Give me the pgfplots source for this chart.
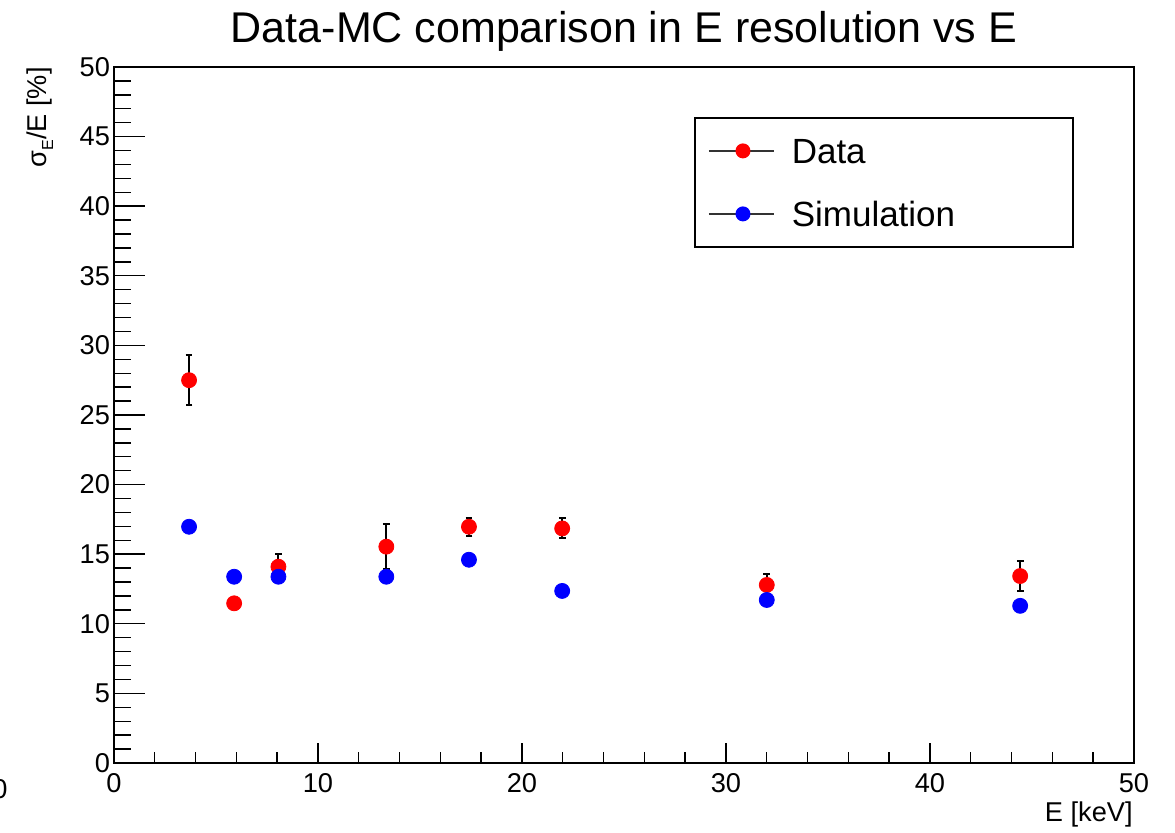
\documentclass[border=0pt]{standalone}
\usepackage{pgfplots}
\usepackage{pgfplotstable}
\pgfplotsset{compat=1.18}
\usepackage{fontspec}
\setmainfont{Liberation Sans}
\pgfplotstableread{
x y err
3.68 27.50 1.80
5.89 11.47 0.20
8.06 14.10 0.90
13.35 15.54 1.60
17.40 16.97 0.65
21.97 16.85 0.72
32.00 12.79 0.82
44.42 13.43 1.10
}\datatab
\pgfplotstableread{
x y
3.68 16.97
5.89 13.38
8.06 13.38
13.35 13.38
17.40 14.60
21.97 12.36
32.00 11.71
44.42 11.29
}\simtab
\begin{document}
\begin{tikzpicture}
\useasboundingbox (-57pt,-35pt) rectangle (530.5pt,381.5pt);
\begin{axis}[
  scale only axis,
  width=510pt, height=348pt,
  xmin=0, xmax=50, ymin=0, ymax=50,
  axis line style={line width=0.8pt},
  tick align=inside,
  xtick pos=bottom, ytick pos=left,
  xtick={0,10,...,50}, ytick={0,5,...,50},
  minor x tick num=4, minor y tick num=4,
  x tick style={line width=0.7pt, black, /pgfplots/major tick length=10pt, /pgfplots/minor tick length=5.5pt},
  y tick style={line width=0.7pt, black, /pgfplots/major tick length=15.5pt, /pgfplots/minor tick length=8.5pt},
  /pgf/number format/assume math mode=true,
  ticklabel style={font=\fontsize{13.6}{15}\selectfont},
  xticklabel style={yshift=-1.5pt},
  yticklabel style={xshift=1.5pt},
  title={Data-MC comparison in E resolution vs E},
  title style={at={(0.5,1)}, anchor=base, yshift=6pt, font=\fontsize{21.5}{25}\selectfont},
  legend style={at={(axis cs:28.45,46.4)}, anchor=north west, draw=black, line width=0.8pt,
    inner xsep=6.5pt, inner ysep=10.2pt, row sep=18.9pt, column sep=8.5pt,
    font=\fontsize{17.5}{21}\selectfont,
    nodes={inner xsep=0pt, inner ysep=0pt, text height=12.6pt, text depth=0pt, text width=134pt, align=left}},
  legend cell align=left,
]
\addplot[only marks, mark=*, mark size=3.75pt, mark options={draw=red, fill=red},
  legend image code/.code={\draw[black!80, line width=0.8pt, mark=none] (0pt,0pt) -- (32.5pt,0pt); \fill[red, draw=none] (17pt,0pt) circle (3.75pt);},
  ] table[x=x, y=y] {\datatab};
\addlegendentry{Data}
\addplot[draw=none, mark=none, forget plot,
  error bars/.cd, y dir=both, y explicit,
  error bar style={black, line width=1pt},
  error mark options={rotate=90, mark size=1.7pt, black, line width=1pt},
  ] table[x=x, y=y, y error=err] {\datatab};
\addplot[only marks, mark=*, mark size=3.75pt, mark options={draw=blue, fill=blue},
  legend image code/.code={\draw[black!80, line width=0.8pt, mark=none] (0pt,0pt) -- (32.5pt,0pt); \fill[blue, draw=none] (17pt,0pt) circle (3.75pt);},
  ] table[x=x, y=y] {\simtab};
\addlegendentry{Simulation}
\end{axis}
\node[anchor=base east, font=\fontsize{13.6}{15}\selectfont, inner sep=0pt] at (509.5pt,-29.5pt) {E [keV]};
\node[anchor=east, rotate=90, font=\fontsize{13.6}{15}\selectfont, inner sep=0pt] at (-37pt,348pt) {σ\raisebox{-0.45ex}{\fontsize{8}{8}\selectfont E}/E [\%]};
\node[anchor=base, font=\fontsize{13.6}{15}\selectfont, inner sep=0pt] at (-57pt,-18pt) {0};
\end{tikzpicture}
\end{document}
